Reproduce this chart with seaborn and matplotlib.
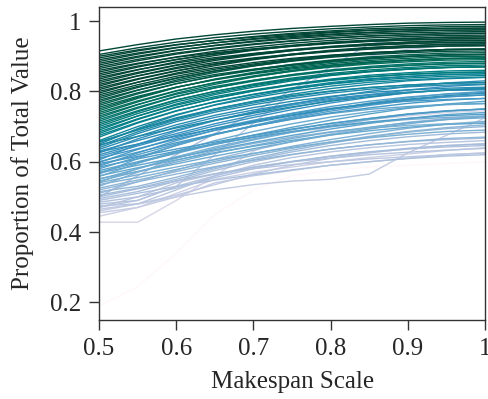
import numpy as np
import pandas as pd
import matplotlib
matplotlib.use("Agg")
import matplotlib.pyplot as plt
import seaborn as sns

makespan_scale = [0.50, 0.55, 0.60, 0.65, 0.70, 0.75, 0.80, 0.85, 0.90, 0.95, 1.00]

green_lines = [
    [.915, .933, .949, .961, .971, .979, .985, .990, .994, .996, .997],
    [.905, .924, .940, .953, .963, .971, .978, .983, .987, .989, .990],
    [.900, .918, .933, .945, .954, .962, .969, .974, .977, .979, .980],
    [.895, .915, .932, .945, .956, .965, .972, .978, .981, .984, .985],
    [.890, .909, .925, .938, .948, .956, .963, .968, .972, .974, .975],
    [.885, .906, .924, .938, .950, .959, .967, .973, .976, .979, .980],
    [.880, .900, .917, .930, .941, .950, .957, .963, .966, .969, .970],
    [.875, .897, .916, .931, .943, .953, .961, .967, .971, .974, .975],
    [.870, .891, .909, .923, .935, .944, .952, .958, .961, .964, .965],
    [.865, .887, .906, .921, .933, .943, .951, .957, .961, .964, .965],
    [.860, .880, .897, .910, .921, .930, .937, .943, .946, .949, .950],
    [.855, .878, .898, .914, .926, .937, .945, .952, .956, .959, .960],
    [.850, .872, .891, .906, .918, .928, .936, .942, .946, .949, .950],
    [.845, .869, .890, .907, .920, .931, .940, .946, .951, .954, .955],
    [.840, .862, .881, .896, .908, .918, .926, .932, .936, .939, .940],
    [.835, .861, .884, .902, .917, .929, .938, .945, .950, .954, .955],
    [.830, .854, .875, .892, .905, .916, .925, .931, .936, .939, .940],
    [.825, .851, .874, .892, .907, .919, .928, .935, .940, .944, .945],
    [.820, .844, .865, .882, .895, .906, .915, .921, .926, .929, .930],
    [.815, .844, .868, .888, .903, .916, .927, .935, .940, .944, .945],
    [.810, .836, .859, .877, .892, .904, .913, .920, .925, .929, .930],
    [.805, .834, .858, .878, .893, .906, .917, .925, .930, .934, .935],
    [.800, .826, .849, .867, .882, .894, .903, .910, .915, .919, .920],
    [.795, .826, .852, .873, .890, .904, .915, .924, .929, .934, .935],
    [.790, .819, .843, .863, .878, .891, .902, .910, .915, .919, .920],
    [.785, .814, .838, .858, .873, .886, .897, .905, .910, .914, .915],
    [.780, .811, .837, .858, .875, .889, .900, .909, .914, .919, .920],
    [.775, .804, .828, .848, .863, .876, .887, .895, .900, .904, .905],
    [.770, .803, .832, .854, .872, .887, .899, .908, .914, .919, .920],
    [.765, .796, .822, .843, .860, .874, .885, .894, .899, .904, .905],
    [.760, .793, .822, .844, .862, .877, .889, .898, .904, .909, .910],
    [.755, .786, .812, .833, .850, .864, .875, .884, .889, .894, .895],
    [.750, .783, .812, .834, .852, .867, .879, .888, .894, .899, .900],
]

teal_lines = [
    [.745, .780, .811, .835, .854, .870, .883, .892, .899, .903, .905],
    [.740, .773, .802, .824, .842, .857, .869, .878, .884, .889, .890],
    [.735, .770, .801, .825, .844, .860, .873, .882, .889, .893, .895],
    [.730, .763, .792, .814, .832, .847, .859, .868, .874, .879, .880],
    [.725, .762, .795, .820, .841, .858, .871, .881, .888, .893, .895],
    [.720, .755, .786, .810, .829, .845, .858, .867, .874, .878, .880],
    [.715, .752, .785, .810, .831, .848, .861, .871, .878, .883, .885],
    [.710, .745, .776, .800, .819, .835, .848, .857, .864, .868, .870],
    [.705, .742, .775, .800, .821, .838, .851, .861, .868, .873, .875],
    [.700, .737, .770, .795, .816, .833, .846, .856, .863, .868, .870],
    [.695, .730, .761, .785, .804, .820, .833, .842, .849, .853, .855],
    [.690, .730, .764, .791, .812, .830, .845, .856, .863, .868, .870],
    [.685, .722, .755, .780, .801, .818, .831, .841, .848, .853, .855],
    [.680, .720, .754, .781, .802, .820, .835, .846, .853, .858, .860],
    [.675, .712, .745, .770, .791, .808, .821, .831, .838, .843, .845],
    [.670, .710, .744, .771, .792, .810, .825, .836, .843, .848, .850],
    [.660, .700, .734, .761, .782, .800, .815, .826, .833, .838, .840],
    [.655, .692, .725, .750, .771, .788, .801, .811, .818, .823, .825],
    [.650, .694, .732, .762, .786, .806, .822, .834, .842, .848, .850],
    [.645, .685, .719, .746, .767, .785, .800, .811, .818, .823, .825],
    [.640, .680, .714, .741, .762, .780, .795, .806, .813, .818, .820],
]

blue_lines = [
    [.657, .690, .722, .750, .772, .792, .808, .820, .830, .836, .840],
    [.648, .672, .696, .718, .738, .756, .772, .785, .796, .804, .808],
    [.635, .672, .705, .732, .754, .772, .786, .797, .804, .809, .812],
    [.630, .660, .690, .718, .742, .764, .784, .800, .814, .824, .830],
    [.628, .650, .672, .694, .714, .733, .750, .765, .778, .788, .795],
    [.625, .665, .699, .726, .747, .765, .780, .791, .798, .803, .805],
    [.620, .650, .680, .708, .732, .754, .774, .790, .804, .814, .820],
    [.615, .645, .675, .702, .726, .748, .767, .783, .796, .805, .810],
    [.610, .637, .664, .689, .711, .731, .749, .763, .776, .785, .790],
    [.605, .649, .687, .717, .741, .761, .777, .789, .797, .803, .805],
    [.600, .627, .654, .679, .701, .721, .739, .753, .766, .775, .780],
    [.598, .635, .668, .695, .718, .737, .752, .764, .772, .777, .780],
    [.595, .615, .636, .656, .675, .693, .709, .723, .735, .744, .750],
    [.590, .620, .650, .678, .702, .724, .744, .760, .774, .784, .790],
    [.588, .625, .660, .690, .716, .738, .757, .772, .784, .792, .797],
    [.585, .608, .630, .651, .669, .686, .701, .713, .723, .731, .735],
    [.580, .613, .646, .677, .703, .727, .749, .767, .782, .793, .800],
    [.575, .600, .626, .652, .676, .698, .718, .736, .752, .764, .772],
    [.570, .597, .624, .649, .671, .691, .709, .723, .736, .745, .750],
    [.568, .590, .612, .634, .655, .675, .693, .709, .723, .734, .740],
    [.565, .609, .647, .677, .701, .721, .737, .749, .757, .763, .765],
    [.560, .583, .605, .626, .644, .661, .676, .688, .698, .706, .710],
    [.558, .595, .630, .660, .686, .708, .727, .742, .754, .762, .766],
    [.552, .572, .594, .616, .637, .657, .676, .693, .708, .720, .728],
    [.550, .580, .610, .638, .662, .684, .704, .720, .734, .744, .750],
    [.545, .572, .599, .624, .646, .666, .684, .698, .711, .720, .725],
    [.542, .580, .614, .642, .665, .684, .699, .711, .720, .726, .730],
    [.540, .563, .585, .606, .624, .641, .656, .668, .678, .686, .690],
    [.535, .555, .578, .601, .623, .644, .663, .680, .695, .707, .715],
    [.530, .570, .604, .631, .652, .670, .685, .696, .703, .708, .710],
    [.525, .548, .572, .596, .618, .638, .656, .672, .686, .697, .705],
    [.520, .543, .565, .586, .604, .621, .636, .648, .658, .666, .670],
    [.515, .530, .556, .584, .610, .633, .653, .670, .684, .694, .700],
    [.510, .543, .576, .607, .633, .657, .679, .697, .712, .723, .730],
    [.505, .525, .550, .580, .606, .628, .646, .660, .671, .679, .684],
]

light_lines = [
    [.500, .523, .545, .566, .584, .601, .616, .628, .638, .646, .650],
    [.495, .515, .545, .575, .600, .620, .636, .648, .657, .663, .667],
    [.490, .510, .530, .548, .563, .577, .590, .600, .609, .616, .620],
    [.485, .500, .525, .555, .580, .600, .615, .627, .636, .642, .646],
    [.480, .490, .530, .560, .585, .600, .610, .620, .627, .633, .638],
    [.475, .480, .520, .560, .590, .612, .628, .640, .649, .655, .660],
    [.470, .500, .540, .565, .580, .592, .600, .608, .614, .620, .625],
    [.465, .480, .505, .535, .565, .590, .610, .625, .637, .646, .652],
    [.455, .470, .500, .540, .560, .575, .590, .600, .610, .620, .625],
    [.445, .470, .510, .550, .570, .585, .600, .612, .622, .632, .640],
    [.428, .428, .490, .560, .630, .670, .700, .720, .730, .740, .745],
    [.190, .245, .340, .450, .520, .560, .575, .585, .590, .595, .600],
]

climbing_lines = [
    [.500, .560, .620, .680, .740, .805, .870, .935, .955, .965, .970],
    [.470, .490, .530, .620, .710, .795, .860, .900, .920, .930, .935],
    [.460, .480, .500, .520, .535, .545, .550, .565, .625, .675, .725],
]

groups = [green_lines, teal_lines, blue_lines, light_lines, climbing_lines]
rows = []
line_id = 0
for grp in groups:
    for values in grp:
        for x, y in zip(makespan_scale, values):
            rows.append({"line": line_id, "scale": x, "value": y, "start": values[0]})
        line_id += 1
df = pd.DataFrame(rows)

sns.set_theme(style="ticks")
plt.rcParams["font.family"] = ["Liberation Serif", "DejaVu Serif"]
plt.rcParams["mathtext.fontset"] = "stix"

fig = plt.figure(figsize=(4.88, 3.99), dpi=100)
ax = fig.add_axes([0.203, 0.198, 0.791, 0.7845])

sns.lineplot(data=df, x="scale", y="value", hue="start", units="line",
             estimator=None, palette="PuBuGn", hue_norm=(0.32, 0.80),
             linewidth=1.0, legend=False, ax=ax, sort=False)

ax.set_xlim(0.5, 1.0)
ax.set_ylim(0.15, 1.04)
ax.set_xticks([0.5, 0.6, 0.7, 0.8, 0.9, 1.0])
ax.set_xticklabels(["0.5", "0.6", "0.7", "0.8", "0.9", "1"])
ax.set_yticks([0.2, 0.4, 0.6, 0.8, 1.0])
ax.set_yticklabels(["0.2", "0.4", "0.6", "0.8", "1"])
ax.tick_params(axis="both", labelsize=18, direction="out", length=7, width=1,
               color="#333333", pad=6)
ax.set_xlabel("Makespan Scale", fontsize=18, labelpad=8)
ax.set_ylabel("Proportion of Total Value", fontsize=18, labelpad=11)
for s in ax.spines.values():
    s.set_visible(True)
    s.set_color("#333333")
    s.set_linewidth(1.0)

fig.savefig("out.png", dpi=100)
